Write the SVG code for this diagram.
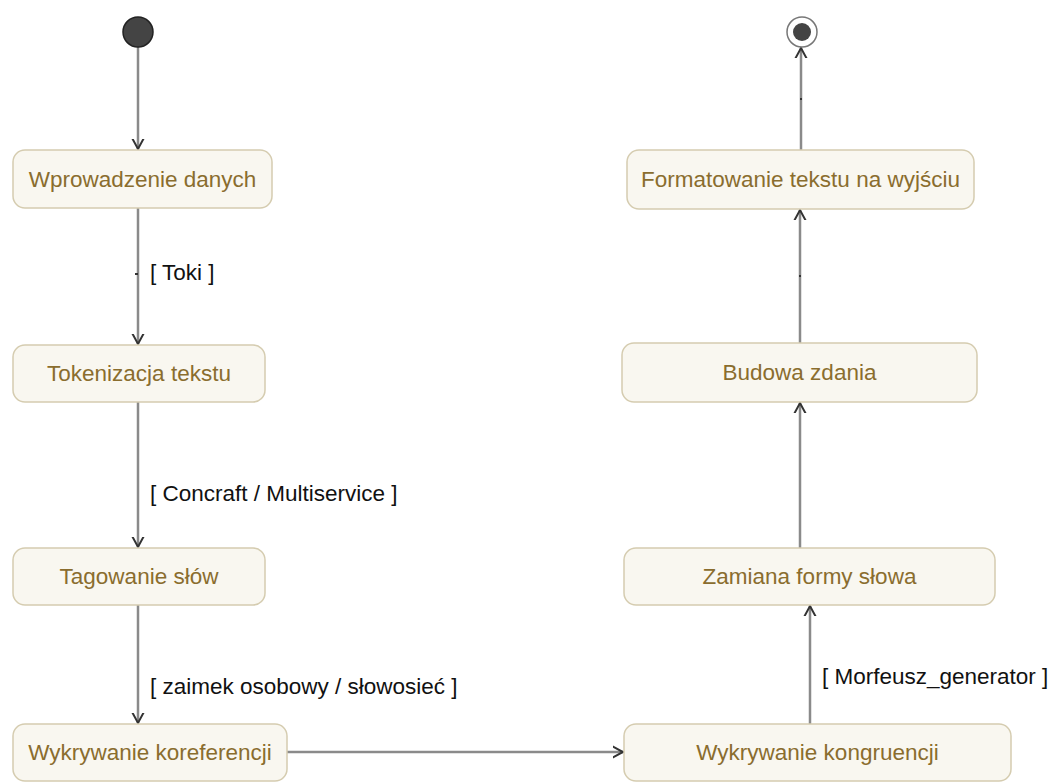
<svg xmlns="http://www.w3.org/2000/svg" width="1052" height="783" viewBox="0 0 1052 783">
<defs>
<style>
.node rect{fill:#f9f7f0;stroke:#d5ccb0;stroke-width:1.5}
.node text{font-family:"Liberation Sans",Arial,sans-serif;font-size:22.5px;fill:#8a6d2e;text-anchor:middle}
.edge{stroke:#8a8a8a;stroke-width:2.5;fill:none}
.lbl{font-family:"Liberation Sans",Arial,sans-serif;font-size:22.5px;fill:#111}
.tick{stroke:#333;stroke-width:2}
</style>
<marker id="arr" markerUnits="userSpaceOnUse" markerWidth="20" markerHeight="20" viewBox="-10 -10 20 20" refX="0" refY="0" orient="auto">
<path d="M-13,-7 L0,0 L-13,7" fill="none" stroke="#333333" stroke-width="2"/>
</marker>
</defs>
<rect width="1052" height="783" fill="#ffffff"/>
<g id="connectors">
<line class="edge" x1="138" y1="47" x2="138" y2="149" marker-end="url(#arr)"/>
<line class="edge" x1="138" y1="208" x2="138" y2="344" marker-end="url(#arr)"/>
<line class="edge" x1="138" y1="402" x2="138" y2="547" marker-end="url(#arr)"/>
<line class="edge" x1="138" y1="605" x2="138" y2="723" marker-end="url(#arr)"/>
<line class="edge" x1="287" y1="752" x2="623" y2="752" marker-end="url(#arr)"/>
<line class="edge" x1="810" y1="724" x2="810" y2="606" marker-end="url(#arr)"/>
<line class="edge" x1="800" y1="548" x2="800" y2="403" marker-end="url(#arr)"/>
<line class="edge" x1="800" y1="343" x2="800" y2="210" marker-end="url(#arr)"/>
<line class="edge" x1="801" y1="150" x2="801" y2="48" marker-end="url(#arr)"/>
<line class="tick" x1="135" y1="274" x2="138" y2="274"/>
<line class="tick" x1="799" y1="276" x2="801" y2="276"/>
<line class="tick" x1="800" y1="99" x2="802" y2="99"/>
<text class="lbl" x="150" y="280">[ Toki ]</text>
<text class="lbl" x="150" y="501">[ Concraft / Multiservice ]</text>
<text class="lbl" x="150" y="694">[ zaimek osobowy / słowosieć ]</text>
<text class="lbl" x="822" y="684">[ Morfeusz_generator ]</text>
</g>
<g id="start">
<circle cx="138" cy="32" r="15" fill="#444444" stroke="#222222" stroke-width="1.5"/>
</g>
<g id="end">
<circle cx="802" cy="32" r="15" fill="#ffffff" stroke="#777777" stroke-width="1.5"/>
<circle cx="802" cy="32" r="9" fill="#444444"/>
</g>
<g id="n1" class="node"><rect x="13" y="150" width="259" height="58" rx="12"/><text x="142.5" y="187">Wprowadzenie danych</text></g>
<g id="n2" class="node"><rect x="13" y="345" width="252" height="57" rx="12"/><text x="139" y="381">Tokenizacja tekstu</text></g>
<g id="n3" class="node"><rect x="13" y="548" width="252" height="57" rx="12"/><text x="139" y="584">Tagowanie słów</text></g>
<g id="n4" class="node"><rect x="13" y="724" width="274" height="57" rx="12"/><text x="150" y="760">Wykrywanie koreferencji</text></g>
<g id="n5" class="node"><rect x="624" y="724" width="387" height="57" rx="12"/><text x="817.5" y="760">Wykrywanie kongruencji</text></g>
<g id="n6" class="node"><rect x="624" y="548" width="371" height="57" rx="12"/><text x="809.5" y="584">Zamiana formy słowa</text></g>
<g id="n7" class="node"><rect x="622" y="343" width="355" height="59" rx="12"/><text x="799.5" y="380">Budowa zdania</text></g>
<g id="n8" class="node"><rect x="627" y="150" width="347" height="59" rx="12"/><text x="800.5" y="187">Formatowanie tekstu na wyjściu</text></g>
</svg>
